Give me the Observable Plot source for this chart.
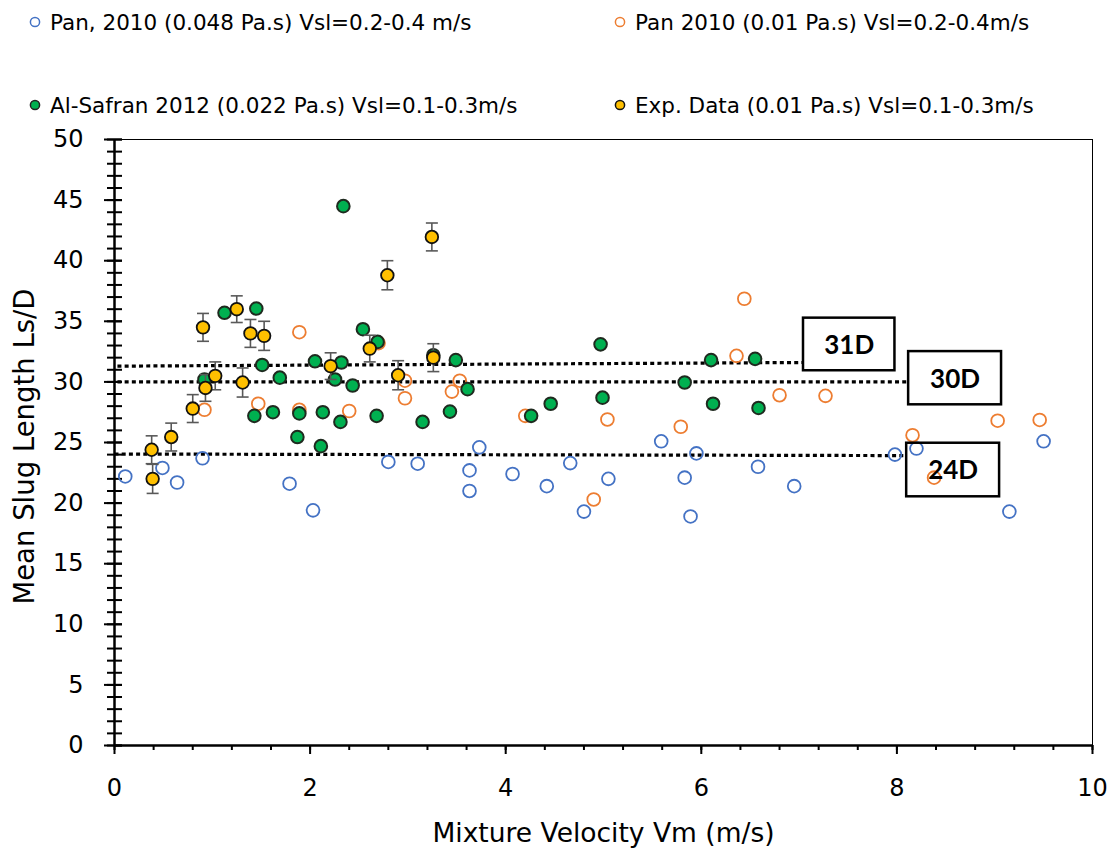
<!DOCTYPE html>
<html><head><meta charset="utf-8">
<script src="https://cdn.jsdelivr.net/npm/d3@7"></script>
<script src="https://cdn.jsdelivr.net/npm/@observablehq/plot@0.6"></script>
<style>
body{margin:0;background:#fff;font-family:"Comic Sans MS","DejaVu Sans",sans-serif;}
#legend{position:relative;width:1114px;height:125px;}
.item{position:absolute;display:flex;align-items:center;height:30px;font-size:21.5px;color:#000;white-space:nowrap;}
.item svg{margin-right:9px;}
#chart svg{display:block;}
</style></head><body>
<div id="legend"></div>
<div id="chart"></div>
<script>
// ---- data ----
const blueX = [0.11,0.49,0.64,0.90,1.79,2.03,2.80,3.10,3.63,3.63,3.73,4.07,4.42,4.66,4.80,5.05,5.59,5.83,5.89,5.95,6.58,6.95,7.98,8.20,9.15,9.50];
const blueY = [22.2,22.9,21.7,23.7,21.6,19.4,23.4,23.25,22.7,21.0,24.6,22.4,21.4,23.3,19.3,22.0,25.1,22.1,18.9,24.1,23.0,21.4,24.0,24.5,19.3,25.1];

const orangeX = [0.92,1.47,1.89,1.89,2.40,2.70,2.97,2.97,3.45,3.53,4.20,4.90,5.04,5.79,6.36,6.44,6.80,7.27,8.16,8.38,9.03,9.46];
const orangeY = [27.7,28.2,34.1,27.7,27.6,33.2,30.1,28.65,29.2,30.1,27.2,20.3,26.9,26.3,32.15,36.86,28.9,28.85,25.6,22.1,26.8,26.86];

const greenX = [0.92,1.125,1.45,1.43,1.51,1.62,1.69,1.87,1.89,2.05,2.11,2.13,2.255,2.31,2.32,2.34,2.435,2.54,2.68,2.69,3.15,3.26,3.43,3.49,3.61,4.26,4.46,4.97,4.99,5.83,6.10,6.12,6.55,6.585];
const greenY = [30.2,35.7,36.05,27.2,31.4,27.5,30.35,25.45,27.4,31.7,24.7,27.5,30.2,26.7,31.6,44.5,29.7,34.35,27.2,33.3,26.7,32.2,27.55,31.8,29.4,27.2,28.2,33.1,28.7,29.95,31.8,28.2,31.9,27.85];

const expX = [0.38,0.39,0.58,0.80,0.905,0.93,1.03,1.25,1.31,1.39,1.53,2.21,2.61,2.79,2.90,3.245,3.26];
const expY = [24.4,22.0,25.45,27.8,34.5,29.5,30.5,36.0,29.95,34.0,33.8,31.3,32.75,38.8,30.55,41.96,32.0];
const expErr = [1.15,1.2,1.15,1.15,1.15,1.1,1.15,1.1,1.2,1.15,1.2,1.1,1.1,1.2,1.2,1.15,1.15];

const seriesNames = [
  "Pan, 2010 (0.048 Pa.s) Vsl=0.2-0.4 m/s",
  "Pan 2010 (0.01 Pa.s) Vsl=0.2-0.4m/s",
  "Al-Safran 2012 (0.022 Pa.s) Vsl=0.1-0.3m/s",
  "Exp. Data (0.01 Pa.s) Vsl=0.1-0.3m/s"
];

// reference lines (x pairs, y pairs)
const ref31X = [0.03, 7.05], ref31Y = [31.3, 31.6];
const ref30X = [0.03, 8.11], ref30Y = [30.0, 30.0];
const ref24X = [0.0, 8.10], ref24Y = [24.05, 23.92];

// annotation boxes
const boxLabels = ["31D", "30D", "24D"];
const boxX1 = [7.045, 8.12, 8.10];
const boxX2 = [7.98, 9.07, 9.05];
const boxY1 = [30.92, 28.11, 20.52];
const boxY2 = [35.26, 32.5, 24.94];

const xMajor = [0,2,4,6,8,10];
const xMinor = [0,0.4,0.8,1.2,1.6,2,2.4,2.8,3.2,3.6,4,4.4,4.8,5.2,5.6,6,6.4,6.8,7.2,7.6,8,8.4,8.8,9.2,9.6,10];
const yMajor = [0,5,10,15,20,25,30,35,40,45,50];
const yMinor = d3.range(0, 51, 1);

const xTitle = "Mixture Velocity Vm (m/s)";
const yTitle = "Mean Slug Length Ls/D";

// ---- build tables ----
const blue = blueX.map((x,i)=>({x, y: blueY[i]}));
const orange = orangeX.map((x,i)=>({x, y: orangeY[i]}));
const green = greenX.map((x,i)=>({x, y: greenY[i]}));
const exp = expX.map((x,i)=>({x, y: expY[i], lo: expY[i]-expErr[i], hi: expY[i]+expErr[i]}));
const refs = [
  ref31X.map((x,i)=>({x, y: ref31Y[i]})),
  ref30X.map((x,i)=>({x, y: ref30Y[i]})),
  ref24X.map((x,i)=>({x, y: ref24Y[i]}))
];
const boxes = boxLabels.map((t,i)=>({t, x1: boxX1[i], x2: boxX2[i], y1: boxY1[i], y2: boxY2[i]}));

const FONT = '"Comic Sans MS","DejaVu Sans",sans-serif';
const BLUE = "#4472C4", ORANGE = "#ED7D31", GREEN = "#00B050", YELLOW = "#FFC000";

// ---- legend ----
const legend = document.getElementById("legend");
const legendSpec = [
  {name: seriesNames[0], left: 29, cy: 22, fill: "none", stroke: BLUE},
  {name: seriesNames[1], left: 614, cy: 22, fill: "none", stroke: ORANGE},
  {name: seriesNames[2], left: 29, cy: 105, fill: GREEN, stroke: "#222"},
  {name: seriesNames[3], left: 614, cy: 105, fill: YELLOW, stroke: "#111"}
];
for (const s of legendSpec) {
  const div = document.createElement("div");
  div.className = "item";
  div.style.left = s.left + "px";
  div.style.top = (s.cy - 15) + "px";
  div.innerHTML = `<svg width="12" height="12" viewBox="0 0 12 12"><circle cx="6" cy="6" r="4.6" fill="${s.fill}" stroke="${s.stroke}" stroke-width="1.5"/></svg>`;
  const span = document.createElement("span");
  span.textContent = s.name;
  div.appendChild(span);
  legend.appendChild(div);
}

// ---- chart ----
const W = 1114, H = 727, ML = 114, MR = 22, MT = 14, MB = 107;
const innerW = W - ML - MR;

const capSymbol = {
  draw(context, size) {
    const h = Math.sqrt(size / Math.PI);
    context.moveTo(-h, 0);
    context.lineTo(h, 0);
  }
};

const chart = Plot.plot({
  width: W, height: H,
  marginLeft: ML, marginRight: MR, marginTop: MT, marginBottom: MB,
  x: {domain: [0, 10]},
  y: {domain: [0, 50]},
  style: {fontFamily: FONT, fontSize: "24px", color: "#000", background: "#fff", overflow: "visible"},
  marks: [
    Plot.frame({stroke: "#000", strokeWidth: 1}),
    // y ticks crossing the axis
    Plot.tickY(yMinor, {y: d => d, insetLeft: -7, insetRight: innerW - 8, stroke: "#000", strokeWidth: 2}),
    Plot.tickY(yMajor, {y: d => d, insetLeft: -10, insetRight: innerW - 8, stroke: "#000", strokeWidth: 2}),
    Plot.axisY({ticks: yMajor, tickSize: 0, tickPadding: 31, label: null, fontSize: 24}),
    // x ticks below axis
    Plot.axisX({ticks: xMinor, tickSize: 5, text: null, label: null, strokeWidth: 2}),
    Plot.axisX({ticks: xMajor, tickSize: 9, tickPadding: 24, label: null, strokeWidth: 2, fontSize: 24}),
    Plot.ruleX([0], {stroke: "#000", strokeWidth: 2.5}),
    Plot.ruleY([0], {stroke: "#000", strokeWidth: 2.5}),
    // reference lines
    ...refs.map(r => Plot.line(r, {x: "x", y: "y", stroke: "#000", strokeWidth: 3.2, strokeDasharray: "4,3.2", strokeLinecap: "butt"})),
    // series
    Plot.dot(blue, {x: "x", y: "y", r: 6.4, fill: "none", stroke: BLUE, strokeWidth: 1.8}),
    Plot.dot(orange, {x: "x", y: "y", r: 6.4, fill: "none", stroke: ORANGE, strokeWidth: 1.8}),
    Plot.dot(green, {x: "x", y: "y", r: 6.3, fill: GREEN, stroke: "#1f2a1f", strokeWidth: 2}),
    Plot.link(exp, {x1: "x", x2: "x", y1: "lo", y2: "hi", stroke: "#595959", strokeWidth: 1.6}),
    Plot.dot(exp, {x: "x", y: "lo", symbol: capSymbol, r: 6, fill: "none", stroke: "#595959", strokeWidth: 1.6}),
    Plot.dot(exp, {x: "x", y: "hi", symbol: capSymbol, r: 6, fill: "none", stroke: "#595959", strokeWidth: 1.6}),
    Plot.dot(exp, {x: "x", y: "y", r: 6.3, fill: YELLOW, stroke: "#111", strokeWidth: 1.8}),
    // annotation boxes
    Plot.rect(boxes, {x1: "x1", x2: "x2", y1: "y1", y2: "y2", fill: "none", stroke: "#000", strokeWidth: 2.5}),
    Plot.text(boxes, {x: d => (d.x1 + d.x2) / 2, y: d => (d.y1 + d.y2) / 2, text: "t", dy: 1, fontSize: 26, fontWeight: "bold", fontFamily: "Lato, 'Open Sans', sans-serif", fill: "#000"}),
    // axis titles
    Plot.text([xTitle], {text: d => d, frameAnchor: "bottom", dy: 88, lineAnchor: "middle", textAnchor: "middle", fontSize: 26.5, fill: "#000"}),
    Plot.text([yTitle], {text: d => d, frameAnchor: "left", dx: -89, dy: 4, rotate: -90, lineAnchor: "middle", textAnchor: "middle", fontSize: 27.5, fill: "#000"})
  ]
});
document.getElementById("chart").appendChild(chart);
</script>
</body></html>
